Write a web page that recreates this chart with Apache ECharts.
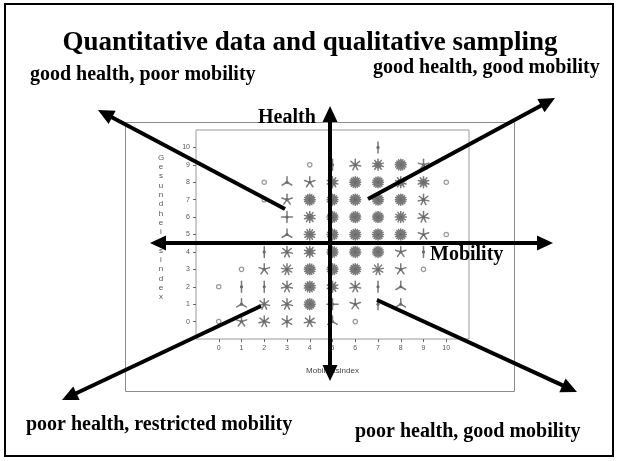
<!DOCTYPE html>
<html>
<head>
<meta charset="utf-8">
<script src="https://cdn.jsdelivr.net/npm/echarts@6/dist/echarts.min.js"></script>
<style>
html,body{margin:0;padding:0;background:#fff;}
#chart{width:619px;height:461px;}
</style>
</head>
<body>
<div id="chart"></div>
<script>
// ---- data (sunflower plot: mobility index vs health index, petal counts) ----
const mobility = [
  7,
  4,5,6,7,8,9,
  2,3,4,5,6,7,8,9,10,
  2,3,4,5,6,7,8,9,
  3,4,5,6,7,8,9,
  3,4,5,6,7,8,9,10,
  2,3,4,5,6,7,8,9,
  1,2,3,4,5,6,7,8,9,
  0,1,2,3,4,5,6,7,8,
  1,2,3,4,5,6,7,8,
  0,1,2,3,4,5,6
];
const health = [
  10,
  9,9,9,9,9,9,
  8,8,8,8,8,8,8,8,8,
  7,7,7,7,7,7,7,7,
  6,6,6,6,6,6,6,
  5,5,5,5,5,5,5,5,
  4,4,4,4,4,4,4,4,
  3,3,3,3,3,3,3,3,3,
  2,2,2,2,2,2,2,2,2,
  1,1,1,1,1,1,1,1,
  0,0,0,0,0,0,0
];
const counts = [
  2,
  1,2,7,10,16,5,
  1,3,5,10,16,16,10,10,1,
  1,5,16,16,16,16,16,7,
  4,10,16,16,16,12,7,
  3,12,16,16,16,16,5,1,
  2,7,10,16,16,16,5,2,
  1,5,9,16,16,16,9,5,1,
  1,2,2,7,14,10,7,2,3,
  3,7,7,16,4,5,2,3,
  1,5,7,6,7,3,1
];
const tickValues = [0,1,2,3,4,5,6,7,8,9,10];
const titleText = 'Quantitative data and qualitative sampling';
const cornerLabels = ['good health, poor mobility','good health, good mobility','poor health, restricted mobility','poor health, good mobility'];
const axisArrowLabels = ['Health','Mobility'];
const xAxisName = 'Mobilitätsindex';
const yAxisName = 'Gesundheitsindex';

const points = mobility.map((x,i)=>[x, health[i], counts[i]]);

const chart = echarts.init(document.getElementById('chart'), null, {renderer:'canvas'});

function sunflower(params, api){
  const p = api.coord([api.value(0), api.value(1)]);
  const n = api.value(2);
  const children = [];
  const col = '#7a7a7a';
  if (n === 1){
    children.push({type:'circle', shape:{cx:p[0], cy:p[1], r:2.2}, style:{fill:'#ffffff', stroke:'#9a9a9a', lineWidth:1.2}});
  } else {
    if (n >= 10){
      children.push({type:'circle', shape:{cx:p[0], cy:p[1], r: n>=14 ? 4.6 : 3.6}, style:{fill:'#707070'}});
    }
    const L = 5.5;
    for (let i=0;i<n;i++){
      const a = -Math.PI/2 + i*2*Math.PI/n;
      children.push({type:'line', shape:{x1:p[0], y1:p[1], x2:p[0]+L*Math.cos(a), y2:p[1]+L*Math.sin(a)},
        style:{stroke:col, lineWidth:1.5, lineCap:'round'}});
    }
    children.push({type:'circle', shape:{cx:p[0], cy:p[1], r:1.6}, style:{fill:'#6a6a6a'}});
  }
  return {type:'group', children};
}

function arrowEls(x1,y1,x2,y2,both){
  const els = [];
  const hl = 16, hw = 7.5, lw = 4;
  const dx = x2-x1, dy = y2-y1, len = Math.hypot(dx,dy);
  const ux = dx/len, uy = dy/len;
  const head = (tx,ty,vx,vy)=>({type:'polygon', z:100,
    shape:{points:[[tx,ty],[tx-vx*hl - vy*hw, ty-vy*hl + vx*hw],[tx-vx*hl + vy*hw, ty-vy*hl - vx*hw]]},
    style:{fill:'#000'}});
  const sx = both ? x1+ux*(hl-2) : x1, sy = both ? y1+uy*(hl-2) : y1;
  els.push({type:'line', z:100, shape:{x1:sx, y1:sy, x2:x2-ux*(hl-2), y2:y2-uy*(hl-2)}, style:{stroke:'#000', lineWidth:lw}});
  els.push(head(x2,y2,ux,uy));
  if (both) els.push(head(x1,y1,-ux,-uy));
  return els;
}

function label(text, x, y, size, align){
  return {type:'text', z:110, x:x, y:y,
    style:{text:text, fill:'#000', fontFamily:'"Liberation Serif", "Times New Roman", serif', fontWeight:'bold', fontSize:size,
      textAlign:align||'left', textVerticalAlign:'middle'}};
}

const graphics = [
  {type:'rect', z:-10, shape:{x:5, y:4, width:608, height:452}, style:{fill:'none', stroke:'#000', lineWidth:2}},
  {type:'rect', z:-9, shape:{x:125.5, y:122.5, width:389, height:269}, style:{fill:'none', stroke:'#8c8c8c', lineWidth:1}},
  {type:'text', z:5, x:161, y:153,
    style:{text: yAxisName.split('').join('\n'), fill:'#555', fontFamily:'Arial, "Liberation Sans", sans-serif', fontSize:8, lineHeight:9.3, textAlign:'center', textVerticalAlign:'top'}},
  label(titleText, 310, 43, 27, 'center'),
  label(cornerLabels[0], 30, 75, 20),
  label(cornerLabels[1], 373, 68, 20),
  label(cornerLabels[2], 26, 425, 20),
  label(cornerLabels[3], 355, 432, 20),
  label(axisArrowLabels[0], 258, 118, 20),
  label(axisArrowLabels[1], 430, 255, 20),
  ...arrowEls(330, 381, 330, 106, true),
  ...arrowEls(150, 243, 553, 243, true),
  ...arrowEls(285, 209, 98, 110, false),
  ...arrowEls(368, 199, 555, 98, false),
  ...arrowEls(261, 306, 62, 400, false),
  ...arrowEls(377, 300, 577, 392, false)
];

const axisCommon = {
  type:'value', min:-1, max:11, interval:1,
  splitLine:{show:false},
  axisLine:{show:false, onZero:false},
  axisTick:{show:true, length:3, customValues:tickValues, lineStyle:{color:'#666', width:1}},
  axisLabel:{customValues:tickValues, fontSize:7, color:'#555', fontFamily:'Arial, "Liberation Sans", sans-serif',
    formatter:(v)=> (v>=0 && v<=10) ? String(v) : ''}
};

chart.setOption({
  animation:false,
  backgroundColor:'#ffffff',
  grid:{left:196, right:150, top:130, bottom:122, show:true, borderColor:'#9a9a9a', borderWidth:1, backgroundColor:'transparent'},
  xAxis: Object.assign({}, axisCommon, {
    axisLabel: Object.assign({}, axisCommon.axisLabel, {margin:6}),
    name: xAxisName, nameLocation:'middle', nameGap:28,
    nameTextStyle:{fontSize:8, color:'#444', fontFamily:'Arial, "Liberation Sans", sans-serif'}
  }),
  yAxis: Object.assign({}, axisCommon, {
    axisLabel: Object.assign({}, axisCommon.axisLabel, {margin:6})
  }),
  series:[{
    type:'custom',
    coordinateSystem:'cartesian2d',
    renderItem: sunflower,
    data: points,
    z:3
  }],
  graphic: graphics
});
</script>
</body>
</html>
